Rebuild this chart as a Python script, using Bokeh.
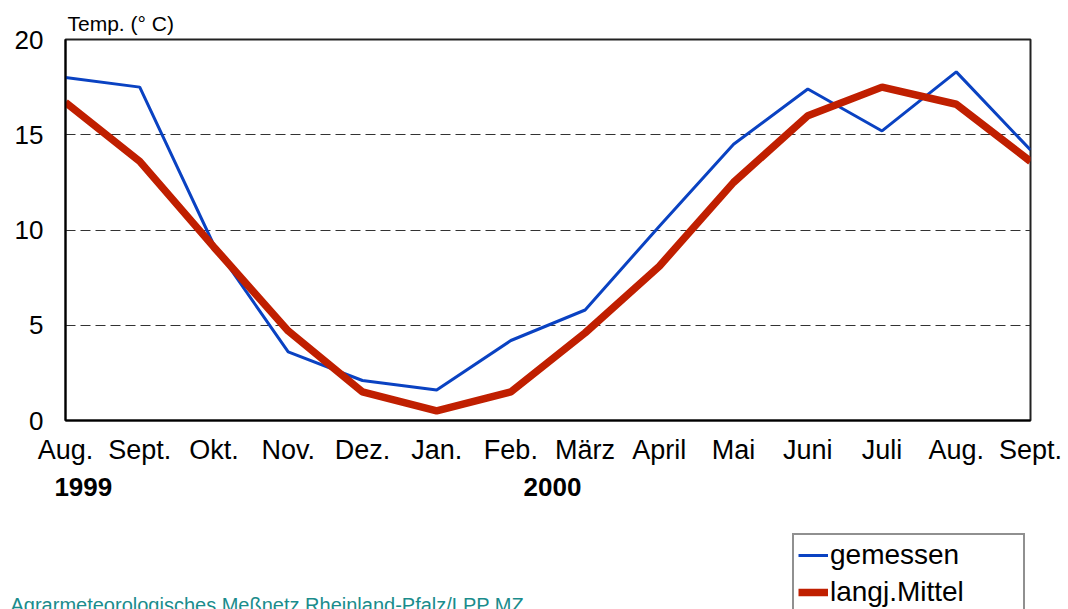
from bokeh.plotting import figure
from bokeh.models import FixedTicker, Label, Legend, LegendItem, Range1d, LinearAxis
from bokeh.embed import file_html
from bokeh.resources import INLINE

months = ["Aug.", "Sept.", "Okt.", "Nov.", "Dez.", "Jan.", "Feb.", "März",
          "April", "Mai", "Juni", "Juli", "Aug.", "Sept."]
gemessen = [18.0, 17.5, 9.2, 3.6, 2.1, 1.6, 4.2, 5.8, 10.2, 14.5, 17.4, 15.2, 18.3, 14.2]
langj_mittel = [16.7, 13.6, 9.1, 4.7, 1.5, 0.5, 1.5, 4.6, 8.1, 12.5, 16.0, 17.5, 16.6, 13.6]
y_ticks = [0, 5, 10, 15, 20]
years = ["1999", "2000"]
year_pos = [0.24, 6.56]
source_note = "Agrarmeteorologisches Meßnetz Rheinland-Pfalz/LPP MZ"
FONT = "Liberation Sans"
BLUE = "#0a42c2"
RED = "#c01f00"

xs = list(range(len(months)))

p = figure(width=1068, height=515, output_backend="svg", toolbar_location=None,
           x_range=Range1d(0, len(months) - 1), y_range=Range1d(0, 20),
           min_border_left=65, min_border_right=38, min_border_top=39, min_border_bottom=95)
p.background_fill_color = "white"
p.border_fill_color = "white"
p.outline_line_color = "#222222"
p.outline_line_width = 2

p.title.text = "Temp. (° C)"
p.title.text_font = FONT
p.title.text_font_size = "21px"
p.title.text_font_style = "normal"
p.title.text_color = "black"
p.title.align = "left"
p.title.offset = 2
p.title.standoff = 9

p.xgrid.visible = False
p.ygrid.ticker = FixedTicker(ticks=[5, 10, 15])
p.ygrid.grid_line_color = "#333333"
p.ygrid.grid_line_dash = "10 5"
p.ygrid.grid_line_width = 1

p.xaxis.ticker = FixedTicker(ticks=xs)
p.xaxis.major_label_overrides = {i: m for i, m in enumerate(months)}
p.yaxis.ticker = FixedTicker(ticks=y_ticks)
for ax in (p.xaxis[0], p.yaxis[0]):
    ax.major_tick_out = 0
    ax.major_tick_in = 0
    ax.minor_tick_out = 0
    ax.minor_tick_in = 0
    ax.axis_line_color = "black"
    ax.axis_line_width = 2
    ax.major_label_text_font = FONT
    ax.major_label_text_color = "black"
p.xaxis.major_label_text_font_size = "27px"
p.xaxis.major_label_standoff = 14
p.yaxis.major_label_text_font_size = "26px"
p.yaxis.major_label_standoff = 22

# year labels as a second axis below the month axis
yax = LinearAxis(ticker=FixedTicker(ticks=year_pos),
                 major_label_overrides={pos: yr for pos, yr in zip(year_pos, years)})
yax.axis_line_color = None
yax.major_tick_out = 0
yax.major_tick_in = 0
yax.minor_tick_out = 0
yax.minor_tick_in = 0
yax.major_label_text_font = FONT
yax.major_label_text_font_size = "26px"
yax.major_label_text_font_style = "bold"
yax.major_label_text_color = "black"
yax.major_label_standoff = 10
p.add_layout(yax, "below")

p.line(xs, gemessen, line_color=BLUE, line_width=3)
p.line(xs, langj_mittel, line_color=RED, line_width=7.5)

# lower strip: legend and source note (series drawn off-range, only the legend shows)
p2 = figure(width=1068, height=94, output_backend="svg", toolbar_location=None,
            x_range=Range1d(0, len(months) - 1), y_range=Range1d(100, 200),
            x_axis_location=None, y_axis_location=None,
            min_border_left=0, min_border_right=0, min_border_top=0, min_border_bottom=0)
p2.grid.visible = False
p2.outline_line_color = None
p2.background_fill_color = "white"
p2.border_fill_color = "white"
l1 = p2.line(xs, gemessen, line_color=BLUE, line_width=3)
l2 = p2.line(xs, langj_mittel, line_color=RED, line_width=7.5)

legend = Legend(items=[LegendItem(label="gemessen", renderers=[l1]),
                       LegendItem(label="langj.Mittel", renderers=[l2])],
                location=(792, -5))
legend.border_line_color = "#222222"
legend.border_line_width = 2
legend.background_fill_color = "white"
legend.background_fill_alpha = 1
legend.label_text_font = FONT
legend.label_text_font_size = "28px"
legend.label_text_color = "black"
legend.glyph_width = 30
legend.glyph_height = 30
legend.label_height = 30
legend.label_width = 189
legend.label_standoff = 2
legend.spacing = 5
legend.padding = 4
legend.margin = 0
p2.add_layout(legend, "center")

p2.add_layout(Label(x=10, y=5, x_units="screen", y_units="screen", text=source_note,
                    text_font=FONT, text_font_size="20px", text_color="#1a8c8c",
                    text_baseline="alphabetic"))

open("out.html", "w").write(file_html([p, p2], INLINE))
